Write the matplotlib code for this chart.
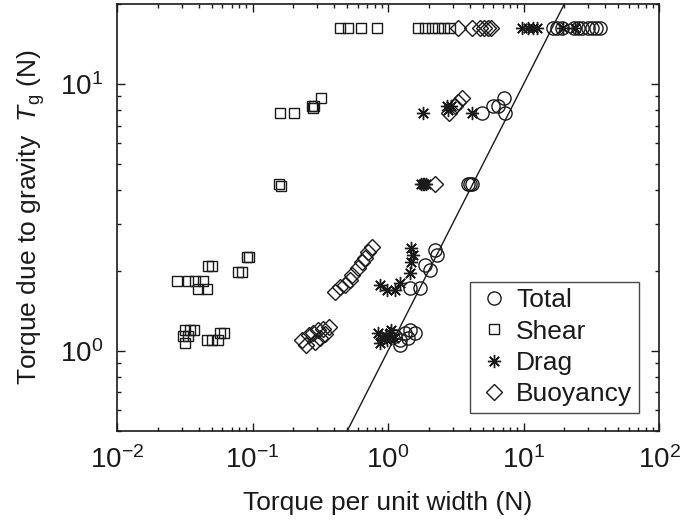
import matplotlib
matplotlib.use('Agg')
import matplotlib.pyplot as plt
import numpy as np

plt.rcParams['font.family'] = ['Liberation Sans', 'DejaVu Sans']
plt.rcParams['mathtext.fontset'] = 'custom'
plt.rcParams['mathtext.rm'] = 'Liberation Sans'
plt.rcParams['mathtext.it'] = 'Liberation Sans:italic'

# Total torque
total_x = [16.5, 17.7, 19.2, 23.6, 25.2, 27.0, 29.9, 32.0, 34.3, 36.7,
           4.94, 5.96, 6.49, 7.18, 7.30,
           3.9, 4.0, 4.2,
           1.45, 1.72, 1.87, 2.04, 2.23, 2.31,
           1.13, 1.23, 1.33, 1.45, 1.59, 1.23, 1.40]
total_y = [16.2]*10 + [7.79, 8.27, 8.27, 8.86, 7.79] + [4.22]*3 + \
          [1.72, 1.72, 2.10, 2.01, 2.38, 2.28] + \
          [1.14, 1.10, 1.165, 1.195, 1.165, 1.05, 1.12]

# Shear
shear_x = [0.443, 0.507, 0.632, 0.830, 1.66, 1.87, 2.11, 2.34, 2.59, 2.87,
           0.160, 0.202, 0.275, 0.283, 0.279, 0.320,
           0.158, 0.162,
           0.0782, 0.0836, 0.0277, 0.0334, 0.0376, 0.0431, 0.0396, 0.0461,
           0.0469, 0.0502, 0.091, 0.094,
           0.0318, 0.0346, 0.037, 0.0307, 0.0334, 0.0318,
           0.0461, 0.0502, 0.0557, 0.0576, 0.0616]
shear_y = [16.2]*10 + [7.79, 7.79, 8.27, 8.27, 8.15, 8.86] + [4.22, 4.15] + \
          [1.97, 1.97, 1.83, 1.83, 1.83, 1.83, 1.70, 1.70, 2.08, 2.08, 2.25, 2.25] + \
          [1.196, 1.196, 1.196, 1.135, 1.135, 1.07, 1.097, 1.097, 1.097, 1.165, 1.165]

# Drag
drag_x = [9.75, 10.8, 11.7, 12.6, 19.5, 24.0,
          1.81, 2.72, 2.78, 2.9, 4.17,
          1.75, 1.8, 1.85, 1.9,
          0.873, 0.99, 1.13, 1.23, 1.45, 1.49, 1.53, 1.49,
          0.84, 0.9, 0.97, 1.03, 1.1, 0.87, 0.99, 1.06]
drag_y = [16.2]*6 + [7.79, 8.27, 8.0, 8.27, 7.79] + [4.22]*4 + \
         [1.76, 1.69, 1.69, 1.79, 1.95, 2.15, 2.28, 2.43] + \
         [1.165, 1.12, 1.14, 1.165, 1.12, 1.07, 1.10, 1.195]

# Buoyancy
buoy_x = [3.29, 4.17, 4.78, 5.11, 5.47, 5.76,
          2.82, 3.29, 3.52, 3.1,
          2.22,
          0.406, 0.44, 0.48, 0.52, 0.54, 0.60, 0.64, 0.68, 0.71, 0.76,
          0.232, 0.26, 0.28, 0.305, 0.33, 0.37, 0.25, 0.29, 0.316, 0.34]
buoy_y = [16.2]*6 + [7.79, 8.6, 8.86, 8.27] + [4.22] + \
         [1.66, 1.73, 1.76, 1.84, 1.92, 2.04, 2.15, 2.22, 2.34, 2.45] + \
         [1.097, 1.15, 1.17, 1.195, 1.21, 1.23, 1.05, 1.08, 1.12, 1.16]

fig = plt.figure(figsize=(6.89, 5.23), dpi=100)
ax = fig.add_axes([0.1698, 0.1759, 0.7867, 0.8165])

ec = '#1a1a1a'
ax.plot(total_x, total_y, 'o', mfc='none', mec=ec, ms=9.5, mew=1, label='Total')
ax.plot(shear_x, shear_y, 's', mfc='none', mec=ec, ms=7.5, mew=1, label='Shear')
ax.plot(drag_x, drag_y, marker=(8, 2, 0), ls='none', mec=ec, ms=9.5, mew=1, label='Drag')
ax.plot(buoy_x, buoy_y, 'D', mfc='none', mec=ec, ms=8.5, mew=1, label='Buoyancy')

lims = np.array([0.5, 20])
ax.plot(lims, lims, '-', color=ec, lw=1)

ax.set_xscale('log')
ax.set_yscale('log')
ax.set_xlim(1e-2, 1e2)
ax.set_ylim(0.5, 20)

ax.tick_params(which='both', direction='in', top=True, right=True, width=1,
               colors=ec)
ax.tick_params(which='major', length=6, labelsize=20)
ax.tick_params(which='minor', length=3)
ax.tick_params(axis='x', which='major', pad=11)
ax.tick_params(axis='y', which='major', pad=10)
for s in ax.spines.values():
    s.set_linewidth(1.2)
    s.set_color(ec)

ax.set_xlabel('Torque per unit width (N)', fontsize=19, labelpad=12, color=ec)
ax.set_ylabel(r'Torque due to gravity  $T_{\mathrm{g}}$ (N)', fontsize=19,
              labelpad=9, color=ec)

leg = ax.legend(loc='lower right', bbox_to_anchor=(0.963, 0.042), borderaxespad=0,
                fontsize=19, frameon=True, fancybox=False, edgecolor=ec,
                handletextpad=0.2, handlelength=1.3, labelspacing=0.28,
                borderpad=0.25)
leg.get_frame().set_linewidth(1)
for t in leg.get_texts():
    t.set_color(ec)

fig.savefig('out.png', dpi=100)
